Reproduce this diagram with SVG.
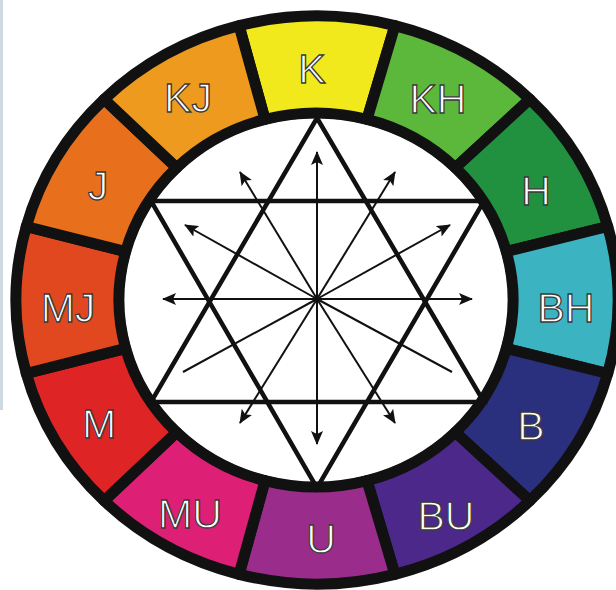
<svg xmlns="http://www.w3.org/2000/svg" width="616" height="590" viewBox="0 0 616 590">
<defs>
<style>
.seg{stroke:#111;stroke-width:11;stroke-linejoin:round}
.lbl{font-family:"Liberation Sans",Arial,sans-serif;font-size:41px;fill:#fff;stroke:#3a3a3a;stroke-width:1.3;text-anchor:middle}
.star{fill:none;stroke:#111;stroke-width:4.5;stroke-linejoin:miter}
.ray{stroke:#111;stroke-width:2;fill:none}
</style>
<marker id="ah" viewBox="0 0 14 12" refX="13" refY="6" markerWidth="14" markerHeight="12" markerUnits="userSpaceOnUse" orient="auto">
<path d="M0,0 L14,6 L0,12 L3,6 Z" fill="#111"/>
</marker>
</defs>
<rect width="616" height="590" fill="#fff"/>
<rect x="0" y="0" width="3" height="410" fill="#cdd9e0"/>
<g id="wheel">
<g id="seg-K"><path class="seg" fill="#f1e91b" d="M239.09,25.68 A301,284 0 0 1 394.91,25.68 L366.99,119.37 A197,187 0 0 0 265.01,119.37 Z"/><text class="lbl" x="312" y="83">K</text></g>
<g id="seg-KH"><path class="seg" fill="#5cb83a" d="M394.91,25.68 A301,284 0 0 1 529.84,99.18 L455.30,167.77 A197,187 0 0 0 366.99,119.37 Z"/><text class="lbl" x="438" y="113">KH</text></g>
<g id="seg-H"><path class="seg" fill="#21913f" d="M529.84,99.18 A301,284 0 0 1 607.74,226.50 L506.29,251.60 A197,187 0 0 0 455.30,167.77 Z"/><text class="lbl" x="536" y="205">H</text></g>
<g id="seg-BH"><path class="seg" fill="#3bb3c1" d="M607.74,226.50 A301,284 0 0 1 607.74,373.50 L506.29,348.40 A197,187 0 0 0 506.29,251.60 Z"/><text class="lbl" x="566" y="322">BH</text></g>
<g id="seg-B"><path class="seg" fill="#2a2f7e" d="M607.74,373.50 A301,284 0 0 1 529.84,500.82 L455.30,432.23 A197,187 0 0 0 506.29,348.40 Z"/><text class="lbl" x="531" y="440">B</text></g>
<g id="seg-BU"><path class="seg" fill="#4b2889" d="M529.84,500.82 A301,284 0 0 1 394.91,574.32 L366.99,480.63 A197,187 0 0 0 455.30,432.23 Z"/><text class="lbl" x="446" y="530">BU</text></g>
<g id="seg-U"><path class="seg" fill="#9a2d8b" d="M394.91,574.32 A301,284 0 0 1 239.09,574.32 L265.01,480.63 A197,187 0 0 0 366.99,480.63 Z"/><text class="lbl" x="321" y="553">U</text></g>
<g id="seg-MU"><path class="seg" fill="#dd1f76" d="M239.09,574.32 A301,284 0 0 1 104.16,500.82 L176.70,432.23 A197,187 0 0 0 265.01,480.63 Z"/><text class="lbl" x="190" y="528">MU</text></g>
<g id="seg-M"><path class="seg" fill="#de2424" d="M104.16,500.82 A301,284 0 0 1 26.26,373.50 L125.71,348.40 A197,187 0 0 0 176.70,432.23 Z"/><text class="lbl" x="99" y="438">M</text></g>
<g id="seg-MJ"><path class="seg" fill="#e2481f" d="M26.26,373.50 A301,284 0 0 1 26.26,226.50 L125.71,251.60 A197,187 0 0 0 125.71,348.40 Z"/><text class="lbl" x="68" y="322">MJ</text></g>
<g id="seg-J"><path class="seg" fill="#e8701d" d="M26.26,226.50 A301,284 0 0 1 104.16,99.18 L176.70,167.77 A197,187 0 0 0 125.71,251.60 Z"/><text class="lbl" x="98" y="200">J</text></g>
<g id="seg-KJ"><path class="seg" fill="#ee9a1e" d="M104.16,99.18 A301,284 0 0 1 239.09,25.68 L265.01,119.37 A197,187 0 0 0 176.70,167.77 Z"/><text class="lbl" x="188" y="112">KJ</text></g>
</g>
<g id="inner">
<ellipse cx="316" cy="300" rx="191" ry="181" fill="#fff"/>
</g>
<g id="star">
<polygon class="star" points="317,118 484,402 151,402"/>
<polygon class="star" points="151,201 484,201 317,488"/>
</g>
<g id="connectors">
<line class="ray" x1="317" y1="299" x2="317" y2="152" marker-end="url(#ah)"/>
<line class="ray" x1="317" y1="299" x2="317" y2="444" marker-end="url(#ah)"/>
<line class="ray" x1="317" y1="299" x2="163" y2="299" marker-end="url(#ah)"/>
<line class="ray" x1="317" y1="299" x2="472" y2="299" marker-end="url(#ah)"/>
<line class="ray" x1="317" y1="299" x2="240" y2="172" marker-end="url(#ah)"/>
<line class="ray" x1="317" y1="299" x2="395" y2="172" marker-end="url(#ah)"/>
<line class="ray" x1="317" y1="299" x2="185" y2="225" marker-end="url(#ah)"/>
<line class="ray" x1="317" y1="299" x2="450" y2="225" marker-end="url(#ah)"/>
<line class="ray" x1="317" y1="299" x2="240" y2="423" marker-end="url(#ah)"/>
<line class="ray" x1="317" y1="299" x2="395" y2="423" marker-end="url(#ah)"/>
<line class="ray" x1="317" y1="299" x2="183" y2="372"/>
<line class="ray" x1="317" y1="299" x2="452" y2="372"/>
</g>
</svg>
